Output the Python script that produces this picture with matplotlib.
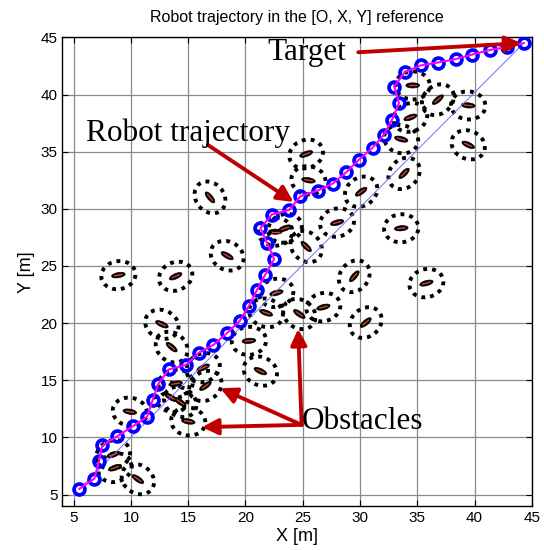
import numpy as np
import matplotlib
matplotlib.use('Agg')
from matplotlib import pyplot as plt
from matplotlib.patches import Ellipse

plt.rcParams['font.family'] = ['Liberation Sans', 'DejaVu Sans']

# robot path (waypoints), start -> target
traj_x = [5.5, 6.8, 7.2, 7.5, 8.8, 10.2, 11.4, 11.9, 12.4, 13.3, 14.8, 15.9, 17.2, 18.4, 19.5,
          20.3, 21.0, 21.7, 22.5, 21.9, 21.3, 22.3, 23.8, 24.8, 26.3, 27.6, 28.8, 29.9, 31.1,
          32.1, 32.8, 33.4, 33.0, 33.9, 35.3, 36.8, 38.35, 39.8, 41.35, 42.8, 44.3]
traj_y = [5.5, 6.4, 7.9, 9.3, 10.1, 11.0, 11.8, 13.3, 14.7, 15.95, 16.35, 17.4, 18.1, 19.15, 20.2,
          21.5, 22.9, 24.2, 25.6, 27.0, 28.3, 29.5, 29.9, 31.1, 31.6, 32.2, 33.2, 34.3, 35.35,
          36.5, 37.8, 39.25, 40.7, 41.96, 42.55, 42.8, 43.1, 43.5, 43.9, 44.15, 44.5]

# obstacles: centre and heading (deg)
obs_x = [8.9, 13.9, 16.9, 18.4, 12.7, 13.55, 9.9, 13.9, 13.5, 14.3, 15.0, 16.3, 16.5, 20.3,
         21.3, 21.8, 22.7, 24.7, 30.1, 28.0, 33.6, 25.3, 23.45, 22.6, 29.5, 35.8, 26.8, 30.5,
         34.6, 36.8, 39.45, 34.4, 33.6, 39.45, 25.3, 25.5, 33.85, 8.45, 8.6, 10.6]
obs_y = [24.2, 24.1, 31.0, 25.9, 19.9, 17.9, 12.25, 14.7, 13.5, 13.1, 11.4, 16.1, 14.5, 18.45,
         15.8, 20.9, 22.65, 20.8, 31.5, 28.8, 28.3, 26.7, 28.3, 28.0, 24.1, 23.5, 21.4, 20.05,
         40.8, 39.55, 39.05, 38.0, 36.1, 35.6, 34.8, 32.5, 33.1, 8.5, 7.35, 6.35]
obs_ang = [10, 25, -50, -30, -25, -40, -10, 10, -30, -35, -10, 25, 35, 5,
           -25, -20, 15, -35, 35, 15, 5, -45, 20, 0, 50, 15, 15, 40,
           0, 40, -5, 20, -15, -25, 20, -10, 45, 20, 20, -35]

# label text, label position, arrow tails/tips
labels = ['Target', 'Robot trajectory', 'Obstacles']
label_pos = [(21.9, 43.0), (6.1, 35.9), (24.9, 10.75)]
arrows = [((29.85, 43.7), (44.1, 44.5)),
          ((16.7, 35.6), (24.2, 30.6)),
          ((24.9, 11.1), (17.8, 14.3)),
          ((24.9, 11.1), (16.2, 10.9)),
          ((24.9, 11.1), (24.6, 19.5))]

arrow_red = '#c00000'

fig = plt.figure(figsize=(5.44, 5.5), dpi=100)
ax = fig.add_axes([0.1145, 0.08, 0.863, 0.852])

# obstacles: dotted safety zone + small body with red heading line
for x, y, a in zip(obs_x, obs_y, obs_ang):
    ax.add_patch(Ellipse((x, y), 3.0, 2.45, angle=a, fill=False, ec='black',
                         lw=2.8, ls=(0, (1, 1.3)), zorder=2))
    ax.add_patch(Ellipse((x, y), 1.2, 0.45, angle=a, fc='black', ec='black',
                         lw=0.5, zorder=3))
    t = np.deg2rad(a)
    dx, dy = 0.32 * np.cos(t), 0.32 * np.sin(t)
    ax.plot([x - dx, x + dx], [y - dy, y + dy], color='#e04030', lw=1.0, zorder=4)

# straight line start -> target
ax.plot([traj_x[0], traj_x[-1]], [traj_y[0], traj_y[-1]], color='#6f6fff', lw=0.7, zorder=3)
ax.plot(traj_x, traj_y, 'o', ms=7.8, mfc='none', mec='#0000ff', mew=2.7, zorder=5)
ax.plot(traj_x, traj_y, color='#ff00ff', lw=1.5, zorder=6)

for (x0, y0), (x1, y1) in arrows:
    ax.annotate('', xy=(x1, y1), xytext=(x0, y0),
                arrowprops=dict(arrowstyle='-|>', color=arrow_red, lw=2.8,
                                mutation_scale=24, shrinkA=0, shrinkB=0),
                zorder=7)

for txt, (x, y) in zip(labels, label_pos):
    ax.text(x, y, txt, family='Liberation Serif', fontsize=22.5, ha='left',
            va='baseline', zorder=8)

ax.set_xlim(4, 45)
ax.set_ylim(4, 45)
ax.set_xticks(range(5, 46, 5))
ax.set_yticks(range(5, 46, 5))
ax.tick_params(direction='in', top=True, right=True, length=4, labelsize=11)
ax.grid(True, color='#8a8a8a', lw=0.9)
ax.set_axisbelow(True)
for s in ax.spines.values():
    s.set_linewidth(1.0)

ax.set_title('Robot trajectory in the [O, X, Y] reference', fontsize=11.5, pad=11)
ax.set_xlabel('X [m]', fontsize=13, labelpad=2)
ax.set_ylabel('Y [m]', fontsize=13, labelpad=4)

fig.savefig('out.png', dpi=100)
